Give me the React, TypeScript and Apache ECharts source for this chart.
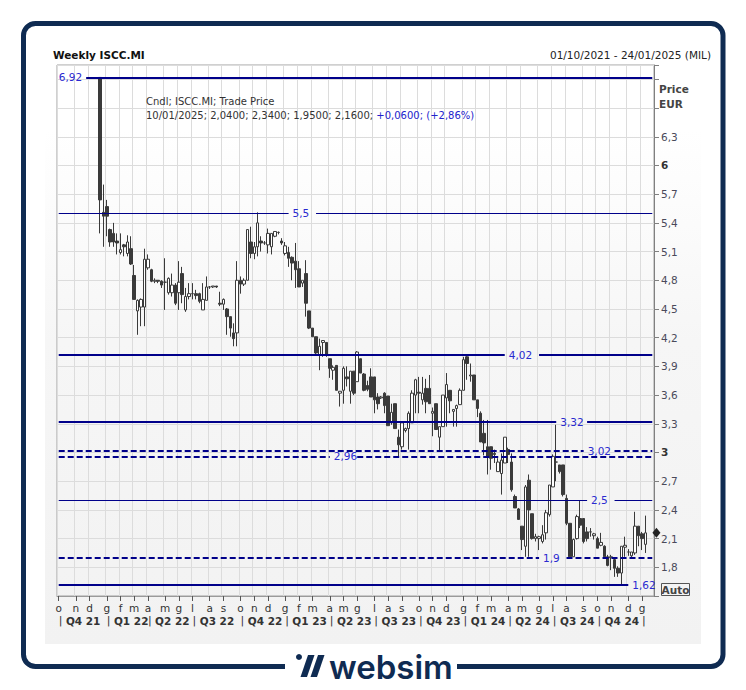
import React, { useEffect, useRef } from "react";
import * as echarts from "echarts";

const FONT = "'DejaVu Sans', Verdana, Tahoma, sans-serif";
const NAVY = "#0f2b52";
const LINE = "#00008a";
const LABEL_BLUE = "#2a2ad0";

// ---------- data ----------
const firstWeek = "01/10/2021";
const lastWeek = "24/01/2025";
const firstCandleDate = "24/12/2021";
const monthLetters = ["g", "f", "m", "a", "m", "g", "l", "a", "s", "o", "n", "d"];

const opens = [
  6.92, 5.51, 5.57, 5.33, 5.29, 5.21, 5.09, 5.17, 5.08, 5.13,
  4.85, 4.48, 4.52, 4.52, 4.93, 4.91, 4.79, 4.80, 4.79, 4.78,
  4.67, 4.67, 4.75, 4.67, 4.87, 4.49, 4.63, 4.66, 4.66, 4.66,
  4.49, 4.59, 4.73, 4.73, 4.74, 4.56, 4.55, 4.50, 4.42, 4.25,
  4.25, 4.80, 4.76, 4.80, 5.20, 5.08, 5.15, 5.21, 5.19, 5.17,
  5.15, 5.26, 5.30, 5.21, 5.08, 5.09, 5.04, 5.00, 4.92, 4.77,
  4.87, 4.48, 4.30, 4.21, 4.02, 4.15, 4.15, 3.98, 3.86, 3.91,
  3.62, 3.65, 3.79, 3.64, 3.85, 3.74, 3.98, 3.82, 3.70, 3.79,
  3.79, 3.58, 3.57, 3.62, 3.59, 3.31, 3.51, 3.16, 3.06, 3.23,
  3.25, 3.31, 3.60, 3.63, 3.55, 3.67, 3.67, 3.41, 3.51, 3.16,
  3.27, 3.57, 3.65, 3.43, 3.46, 3.50, 3.65, 4.00, 3.80, 3.81,
  3.55, 3.41, 3.20, 3.06, 3.06, 2.99, 2.80, 2.78, 2.89, 3.03,
  2.90, 2.54, 2.41, 2.23, 2.02, 2.71, 2.36, 2.10, 2.10, 2.07,
  2.16, 2.35, 2.64, 2.90, 2.87, 2.87, 2.52, 2.26, 1.91, 2.10,
  2.31, 2.31, 2.17, 2.17, 2.13, 2.10, 2.03, 2.02, 1.91, 1.90,
  1.88, 1.79, 1.74, 2.01, 1.96, 1.92, 1.95, 2.23, 2.15, 2.04,
];
const closes = [
  5.64, 5.47, 5.47, 5.20, 5.20, 5.19, 5.12, 5.15, 5.20, 4.97,
  4.60, 4.59, 4.60, 5.02, 5.02, 4.79, 4.80, 4.79, 4.75, 4.78,
  4.82, 4.75, 4.56, 4.78, 4.65, 4.63, 4.66, 4.66, 4.64, 4.58,
  4.60, 4.73, 4.73, 4.74, 4.73, 4.55, 4.60, 4.42, 4.30, 4.19,
  4.80, 4.76, 4.80, 5.33, 5.08, 5.15, 5.40, 5.19, 5.19, 5.29,
  5.29, 5.31, 5.30, 5.19, 5.16, 5.03, 4.98, 4.91, 4.73, 4.80,
  4.56, 4.30, 4.21, 4.04, 4.11, 4.17, 4.02, 3.88, 3.89, 3.65,
  3.64, 3.88, 3.77, 3.85, 3.62, 4.05, 3.83, 3.65, 3.66, 3.58,
  3.55, 3.51, 3.58, 3.49, 3.28, 3.42, 3.25, 3.08, 3.31, 3.25,
  3.41, 3.62, 3.76, 3.62, 3.62, 3.53, 3.51, 3.43, 3.24, 3.27,
  3.60, 3.71, 3.54, 3.45, 3.49, 3.65, 3.97, 3.93, 3.81, 3.55,
  3.46, 3.11, 3.10, 2.96, 2.94, 2.98, 2.90, 2.92, 3.16, 2.98,
  2.61, 2.42, 2.30, 2.09, 2.64, 2.40, 2.10, 2.12, 2.12, 2.14,
  2.37, 2.66, 2.96, 2.90, 2.80, 2.56, 2.26, 1.91, 2.09, 2.33,
  2.24, 2.07, 2.10, 2.17, 2.15, 2.00, 2.06, 1.91, 1.82, 1.91,
  1.79, 1.74, 2.02, 2.03, 1.96, 1.96, 2.23, 2.13, 2.10, 2.16,
];
const lows = [
  5.29, 5.15, 5.26, 5.15, 5.15, 5.07, 5.07, 5.05, 5.05, 4.96,
  4.60, 4.23, 4.32, 4.32, 4.91, 4.78, 4.77, 4.77, 4.72, 4.49,
  4.65, 4.63, 4.54, 4.49, 4.56, 4.47, 4.60, 4.60, 4.60, 4.56,
  4.49, 4.59, 4.71, 4.72, 4.72, 4.53, 4.49, 4.23, 4.21, 4.11,
  4.11, 4.66, 4.74, 4.80, 5.03, 5.02, 5.05, 5.10, 5.17, 5.08,
  5.07, 5.25, 5.28, 5.17, 5.06, 4.94, 4.80, 4.72, 4.73, 4.73,
  4.42, 4.29, 4.21, 4.02, 3.86, 4.00, 4.00, 3.78, 3.76, 3.65,
  3.48, 3.51, 3.69, 3.51, 3.60, 3.74, 3.83, 3.64, 3.64, 3.58,
  3.41, 3.45, 3.56, 3.41, 3.28, 3.29, 3.25, 2.96, 3.03, 3.21,
  3.03, 3.31, 3.41, 3.41, 3.50, 3.41, 3.51, 3.17, 3.24, 3.01,
  3.27, 3.27, 3.41, 3.27, 3.27, 3.50, 3.65, 3.76, 3.74, 3.55,
  3.37, 3.11, 2.97, 2.77, 2.82, 2.89, 2.80, 2.56, 2.89, 2.89,
  2.59, 2.42, 2.30, 1.98, 1.91, 1.91, 2.09, 2.07, 1.98, 2.05,
  2.09, 2.33, 2.64, 2.70, 2.78, 2.54, 2.24, 1.91, 1.91, 2.09,
  2.21, 2.05, 2.07, 2.12, 2.09, 2.00, 2.02, 1.91, 1.81, 1.77,
  1.70, 1.70, 1.62, 1.91, 1.92, 1.90, 1.93, 2.02, 1.98, 1.95,
];
const highs = [
  6.92, 5.80, 5.64, 5.34, 5.40, 5.29, 5.29, 5.18, 5.27, 5.26,
  4.96, 4.60, 4.61, 5.13, 5.07, 4.92, 4.82, 4.80, 4.80, 5.03,
  4.83, 4.87, 4.77, 5.00, 4.94, 4.72, 4.77, 4.77, 4.70, 4.67,
  4.77, 4.84, 4.74, 4.74, 4.74, 4.68, 4.61, 4.51, 4.42, 4.35,
  5.00, 4.84, 4.82, 5.33, 5.36, 5.20, 5.51, 5.26, 5.21, 5.34,
  5.29, 5.31, 5.31, 5.24, 5.20, 5.15, 5.05, 5.19, 5.00, 4.80,
  5.01, 4.48, 4.30, 4.21, 4.19, 4.17, 4.15, 3.98, 3.91, 3.91,
  3.64, 3.90, 3.90, 3.85, 3.85, 4.06, 3.98, 3.83, 3.75, 3.88,
  3.79, 3.62, 3.59, 3.63, 3.59, 3.51, 3.51, 3.24, 3.31, 3.26,
  3.43, 3.65, 3.77, 3.79, 3.79, 3.77, 3.81, 3.47, 3.51, 3.27,
  3.60, 3.83, 3.65, 3.45, 3.50, 3.67, 4.00, 4.02, 3.93, 3.81,
  3.55, 3.43, 3.34, 3.34, 3.06, 3.03, 2.94, 2.99, 3.16, 3.05,
  2.99, 2.56, 2.42, 2.23, 2.66, 2.77, 2.36, 2.15, 2.13, 2.24,
  2.40, 2.66, 2.98, 3.29, 2.87, 2.87, 2.56, 2.26, 2.10, 2.35,
  2.50, 2.31, 2.22, 2.21, 2.16, 2.12, 2.16, 2.03, 1.93, 1.93,
  1.90, 1.81, 2.02, 2.12, 1.99, 1.96, 2.38, 2.23, 2.17, 2.34,
];

const levels = [6.92, 5.5, 4.02, 3.32, 3.02, 2.96, 2.5, 1.9, 1.62];
const yMin = 1.5;
const yMax = 7.05;
const yStep = 0.3;

// ---------- layout / style of the level lines (week indices of segments) ----------
const levelStyle: Record<string, { width: number; dashed: boolean; segs: number[][]; labelAt: "start" | "end" }> = {
  "6.92": { width: 2.2, dashed: false, segs: [[8, 173]], labelAt: "start" },
  "5.5": { width: 1.2, dashed: false, segs: [[0, 67], [75, 173]], labelAt: "end" },
  "4.02": { width: 2.2, dashed: false, segs: [[0, 130], [140, 173]], labelAt: "end" },
  "3.32": { width: 2.2, dashed: false, segs: [[0, 145], [154, 173]], labelAt: "end" },
  "3.02": { width: 2, dashed: true, segs: [[0, 153], [162, 173]], labelAt: "end" },
  "2.96": { width: 2, dashed: true, segs: [[0, 79], [87, 173]], labelAt: "end" },
  "2.5": { width: 1.2, dashed: false, segs: [[0, 154], [162, 173]], labelAt: "end" },
  "1.9": { width: 2, dashed: true, segs: [[0, 140], [148, 173]], labelAt: "end" },
  "1.62": { width: 2.2, dashed: false, segs: [[0, 166]], labelAt: "end" },
};

// ---------- helpers ----------
const DAY = 86400000;
function parseDMY(s: string) {
  const [d, m, y] = s.split("/").map(Number);
  return Date.UTC(y, m - 1, d);
}
function fmtDMY(t: number) {
  const d = new Date(t);
  const dd = String(d.getUTCDate()).padStart(2, "0");
  const mm = String(d.getUTCMonth() + 1).padStart(2, "0");
  return `${dd}/${mm}/${d.getUTCFullYear()}`;
}
const weekTimes: number[] = [];
for (let t = parseDMY(firstWeek); t <= parseDMY(lastWeek); t += 7 * DAY) weekTimes.push(t);
const categories = weekTimes.map(fmtDMY);
const startIdx = categories.indexOf(firstCandleDate);
const candleData = categories.map((_, i) => {
  const k = i - startIdx;
  return k >= 0 && k < opens.length ? [opens[k], closes[k], lows[k], highs[k]] : ["-", "-", "-", "-"];
});
const lastK = opens.length - 1;
const lastIdx = startIdx + lastK;

const num = (v: number, d: number) => v.toFixed(d).replace(".", ",");
const levelLabel = (v: number) => String(v).replace(".", ",");

const isMonthStart = (i: number) => new Date(weekTimes[i]).getUTCDate() <= 7;
const isQuarterStart = (i: number) => isMonthStart(i) && new Date(weekTimes[i]).getUTCMonth() % 3 === 0;

function buildMarkLines() {
  const out: any[] = [];
  levels.forEach((lv) => {
    const st = levelStyle[String(lv)];
    st.segs.forEach((seg, si) => {
      const showLabel = si === 0;
      out.push([
        {
          coord: [seg[0], lv],
          lineStyle: { color: LINE, width: st.width, type: st.dashed ? [6, 3] : "solid" },
          label: showLabel
            ? {
                show: true,
                position: st.labelAt,
                formatter: levelLabel(lv),
                color: LABEL_BLUE,
                fontSize: 10.5,
                fontFamily: FONT,
                distance: 4,
              }
            : { show: false },
        },
        { coord: [seg[1], lv] },
      ]);
    });
  });
  return out;
}

export default function App() {
  const ref = useRef<HTMLDivElement>(null);

  useEffect(() => {
    if (!ref.current) return;
    const chart = echarts.init(ref.current, null, { renderer: "svg" });

    const lo = opens[lastK], hi = highs[lastK], lw = lows[lastK], cl = closes[lastK];
    const prev = closes[lastK - 1];
    const chg = cl - prev;
    const pct = (chg / prev) * 100;
    const sign = chg >= 0 ? "+" : "-";
    const legendLine2 =
      `{n|${categories[lastIdx]}; ${num(lo, 4)}; ${num(hi, 4)}; ${num(lw, 4)}; ${num(cl, 4)}; }` +
      `{b|${sign}${num(Math.abs(chg), 4)}; (${sign}${num(Math.abs(pct), 2)}%)}`;

    const bgGradient = new echarts.graphic.LinearGradient(0, 0, 0, 1, [
      { offset: 0, color: "#ffffff" },
      { offset: 0.15, color: "#ffffff" },
      { offset: 0.5, color: "#f6f6f6" },
      { offset: 1, color: "#f2f2f2" },
    ]);

    chart.setOption({
      animation: false,
      backgroundColor: "#ffffff",
      textStyle: { fontFamily: FONT },
      grid: {
        left: 57,
        right: 92,
        top: 65,
        bottom: 94,
        show: true,
        borderColor: "#a0a0a0",
        borderWidth: 1,
        backgroundColor: "transparent",
      },
      xAxis: [
        {
          type: "category",
          data: categories,
          boundaryGap: true,
          axisLine: { show: true, lineStyle: { color: "#9a9a9a" } },
          axisTick: {
            show: true,
            alignWithLabel: true,
            length: 5,
            interval: (i: number) => isMonthStart(i),
            lineStyle: { color: "#555" },
          },
          axisLabel: {
            interval: (i: number) => isMonthStart(i),
            formatter: (_v: string, i: number) => monthLetters[new Date(weekTimes[i]).getUTCMonth()],
            margin: 6,
            fontSize: 10.5,
            color: "#333",
            fontFamily: FONT,
          },
          splitLine: {
            show: true,
            interval: (i: number) => isMonthStart(i),
            lineStyle: { color: "#dcdcdc" },
          },
        },
        {
          type: "category",
          data: categories,
          position: "bottom",
          offset: 15,
          boundaryGap: true,
          axisLine: { show: false },
          axisTick: { show: false },
          splitLine: { show: false },
          axisLabel: {
            interval: (i: number) => isQuarterStart(i),
            align: "left",
            margin: 4,
            fontSize: 11,
            color: "#333",
            fontFamily: FONT,
            formatter: (_v: string, i: number) => {
              const d = new Date(weekTimes[i]);
              const q = Math.floor(d.getUTCMonth() / 3) + 1;
              const yy = String(d.getUTCFullYear()).slice(2);
              if (i + 6 >= categories.length) return "|";
              return `| {q|Q${q} ${yy}}`;
            },
            rich: {
              q: { fontWeight: "bold", fontSize: 10.5, color: "#333", fontFamily: FONT },
            },
          },
        },
      ],
      yAxis: {
        type: "value",
        position: "right",
        min: yMin,
        max: yMax,
        interval: yStep,
        axisLine: { show: true, lineStyle: { color: "#808080" } },
        axisTick: { show: true, length: 5, lineStyle: { color: "#808080" } },
        splitLine: { show: true, lineStyle: { color: "#dcdcdc" } },
        axisLabel: {
          margin: 7,
          fontSize: 10.5,
          color: "#4a4a5a",
          fontFamily: FONT,
          formatter: (v: number) => {
            if (v < 1.7 || v > 6.45) return "";
            const r = Math.round(v * 10) / 10;
            const s = String(r).replace(".", ",");
            return Number.isInteger(r) ? `{b|${s}}` : s;
          },
          rich: {
            b: { fontWeight: "bold", fontSize: 10.5, color: "#333", fontFamily: FONT },
          },
        },
      },
      series: [
        {
          type: "candlestick",
          xAxisIndex: 0,
          data: candleData,
          barWidth: 3,
          itemStyle: {
            color: "#ffffff",
            color0: "#3a3a3a",
            borderColor: "#3a3a3a",
            borderColor0: "#3a3a3a",
            borderWidth: 1,
          },
          markLine: {
            silent: true,
            symbol: ["none", "none"],
            animation: false,
            data: buildMarkLines(),
          },
          markPoint: {
            silent: true,
            animation: false,
            data: [
              {
                coord: [lastIdx, cl],
                symbol: "diamond",
                symbolSize: [8, 10],
                symbolOffset: [11, 0],
                itemStyle: { color: "#222" },
                label: { show: false },
              },
            ],
          },
        },
      ],
      graphic: [
        {
          type: "rect",
          z: -200,
          shape: { x: 23.5, y: 23.5, width: 699.5, height: 643, r: 12 },
          style: { fill: "#ffffff", stroke: NAVY, lineWidth: 5 },
        },
        {
          type: "rect",
          z: -150,
          shape: { x: 45, y: 40, width: 656, height: 604 },
          style: { fill: bgGradient },
        },
        {
          type: "text",
          x: 53,
          y: 55,
          style: { text: "Weekly ISCC.MI", fontFamily: FONT, fontSize: 10.5, fontWeight: "bold", fill: "#111", verticalAlign: "middle" },
        },
        {
          type: "text",
          x: 711,
          y: 55,
          style: {
            text: `${firstWeek} - ${lastWeek} (MIL)`,
            fontFamily: FONT,
            fontSize: 10.5,
            fill: "#222",
            align: "right",
            verticalAlign: "middle",
          },
        },
        {
          type: "text",
          x: 146,
          y: 101,
          z: 10,
          style: { text: "Cndl; ISCC.MI; Trade Price", fontFamily: FONT, fontSize: 10, fill: "#333", verticalAlign: "middle" },
        },
        {
          type: "text",
          x: 146,
          y: 115,
          z: 10,
          style: {
            text: legendLine2,
            fontFamily: FONT,
            fontSize: 10,
            verticalAlign: "middle",
            rich: {
              n: { fontFamily: FONT, fontSize: 10, fill: "#333" },
              b: { fontFamily: FONT, fontSize: 10, fill: "#2222cc" },
            },
          },
        },
        {
          type: "text",
          x: 659,
          y: 89,
          style: { text: "Price", fontFamily: FONT, fontSize: 10.5, fontWeight: "bold", fill: "#444", verticalAlign: "middle" },
        },
        {
          type: "text",
          x: 659,
          y: 104,
          style: { text: "EUR", fontFamily: FONT, fontSize: 10.5, fontWeight: "bold", fill: "#444", verticalAlign: "middle" },
        },
        {
          type: "rect",
          shape: { x: 661.5, y: 583.5, width: 28, height: 12 },
          style: { fill: "#f4f4f4", stroke: "#555", lineWidth: 1 },
        },
        {
          type: "text",
          x: 675.5,
          y: 590,
          style: { text: "Auto", fontFamily: FONT, fontSize: 10.5, fontWeight: "bold", fill: "#444", align: "center", verticalAlign: "middle" },
        },
        // websim logo
        {
          type: "rect",
          shape: { x: 285, y: 650, width: 172, height: 36 },
          style: { fill: "#ffffff" },
        },
        {
          type: "circle",
          shape: { cx: 299, cy: 657, r: 3 },
          style: { fill: NAVY },
        },
        {
          type: "polygon",
          shape: { points: [[308, 655], [314.5, 655], [307, 677], [300.5, 677]] },
          style: { fill: NAVY },
        },
        {
          type: "polygon",
          shape: { points: [[318, 655], [324.5, 655], [317, 677], [310.5, 677]] },
          style: { fill: NAVY },
        },
        {
          type: "text",
          x: 329,
          y: 667,
          style: { text: "websim", fontFamily: "Inter, 'Noto Sans', sans-serif", fontSize: 33, fontWeight: 600, fill: NAVY, verticalAlign: "middle" },
        },
      ],
    });

    return () => chart.dispose();
  }, []);

  return (
    <div
      ref={ref}
      style={{ position: "fixed", left: 0, top: 0, width: 746, height: 690, background: "#fff" }}
    />
  );
}
